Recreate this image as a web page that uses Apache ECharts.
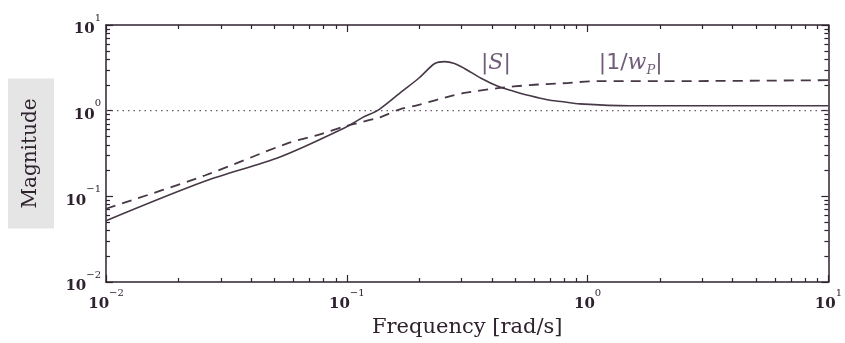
<!DOCTYPE html>
<html>
<head>
<meta charset="utf-8">
<script src="https://cdn.jsdelivr.net/npm/echarts@6/dist/echarts.min.js"></script>
<style>
  html, body { margin: 0; padding: 0; background: #ffffff; }
  #chart { width: 845px; height: 343px; }
</style>
</head>
<body>
<div id="chart"></div>
<script>
// |S| (frequency rad/s, magnitude)
const sFreq = [0.01, 0.0257, 0.0531, 0.099, 0.116, 0.136, 0.170, 0.199, 0.232, 0.255, 0.280, 0.308, 0.361, 0.424, 0.493, 0.578, 0.679, 0.790, 0.927, 1.49, 10];
const sMag  = [0.052, 0.150, 0.29, 0.64, 0.83, 1.03, 1.69, 2.39, 3.55, 3.74, 3.55, 3.11, 2.39, 1.93, 1.69, 1.49, 1.34, 1.27, 1.20, 1.14, 1.14];

// |1/wP|
const wFreq = [0.01, 0.0257, 0.056, 0.0774, 0.099, 0.136, 0.165, 0.199, 0.272, 0.308, 0.424, 0.578, 0.790, 1.09, 1.97, 10];
const wMag  = [0.0716, 0.175, 0.41, 0.53, 0.66, 0.83, 1.03, 1.17, 1.49, 1.61, 1.83, 1.99, 2.09, 2.21, 2.21, 2.27];

// dotted reference line at magnitude 1
const oneFreq = [0.01, 10];
const oneMag  = [1, 1];

const axisMin = 0.01;
const axisMax = 10;
const minorTicks = [];
[0.01, 0.1, 1].forEach(d => { for (let k = 2; k <= 9; k++) minorTicks.push(+(d * k).toPrecision(3)); });

const notes = [
  { name: '{b||}{i|S}{b||}', value: [0.416, 3.55] },
  { name: '{b||1/}{i|w}{sub|P}{b||}', value: [1.51, 3.55] }
];

const ink = '#2e222e';
const lineInk = '#463846';
const noteInk = '#4e3558';
const serif = 'DejaVu Serif';

const expLabel = v => {
  const e = Math.round(Math.log10(v));
  return '{b|10}{s|' + (e < 0 ? '\u2212' + (-e) : e) + '}';
};
const labelRich = {
  b: { fontFamily: serif, fontSize: 15, fontWeight: 'bold', color: ink, verticalAlign: 'bottom', lineHeight: 24 },
  s: { fontFamily: serif, fontSize: 10, color: ink, verticalAlign: 'top', lineHeight: 24 }
};

const pair = (xs, ys) => xs.map((x, i) => [x, ys[i]]);

// frame axes: one with the decade ticks, one carrying only the minor ticks
function frameAxis(position, minor, extra) {
  return Object.assign({
    type: 'log', logBase: 10, min: axisMin, max: axisMax, position: position,
    axisLine: { show: !minor, lineStyle: { color: ink, width: 1.5 } },
    axisTick: minor
      ? { show: true, inside: true, length: 4, customValues: minorTicks, lineStyle: { color: ink, width: 1.2 } }
      : { show: true, inside: true, length: 7, lineStyle: { color: ink, width: 1.2 } },
    axisLabel: { show: false },
    splitLine: { show: false }
  }, extra || {});
}

const chart = echarts.init(document.getElementById('chart'));

const option = {
  backgroundColor: '#ffffff',
  animation: false,
  grid: { left: 100, right: 12, top: 25, bottom: 56 },
  xAxis: [
    frameAxis('bottom', false, {
      name: 'Frequency [rad/s]', nameLocation: 'middle', nameGap: 35,
      nameTextStyle: { fontFamily: serif, fontSize: 21, color: ink },
      axisLabel: { formatter: expLabel, rich: labelRich, margin: 6 }
    }),
    frameAxis('bottom', true),
    frameAxis('top', false),
    frameAxis('top', true)
  ],
  yAxis: [
    frameAxis('left', false, {
      name: 'Magnitude', nameLocation: 'middle', nameGap: 52,
      nameTextStyle: { fontFamily: serif, fontSize: 20, color: ink,
        backgroundColor: '#e5e5e5', padding: [13, 20, 13, 20] },
      axisLabel: { formatter: expLabel, rich: labelRich, margin: 5 }
    }),
    frameAxis('left', true),
    frameAxis('right', false),
    frameAxis('right', true)
  ],
  series: [
    {
      name: 'one', type: 'line', symbol: 'none', silent: true,
      lineStyle: { color: '#6a5a6a', width: 1.2, type: [1.5, 4] },
      data: pair(oneFreq, oneMag)
    },
    {
      name: '|1/wP|', type: 'line', symbol: 'none', smooth: 0.3, silent: true,
      lineStyle: { color: lineInk, width: 1.8, type: [10, 7] },
      data: pair(wFreq, wMag)
    },
    {
      name: '|S|', type: 'line', symbol: 'none', smooth: 0.3, silent: true,
      lineStyle: { color: lineInk, width: 1.6 },
      data: pair(sFreq, sMag)
    },
    {
      type: 'scatter', symbolSize: 0, silent: true,
      label: {
        show: true, position: 'inside', formatter: p => p.name,
        rich: {
          b: { fontFamily: 'DejaVu Sans', fontSize: 22, color: noteInk, verticalAlign: 'middle', lineHeight: 28 },
          i: { fontFamily: serif, fontStyle: 'italic', fontSize: 22, color: noteInk, verticalAlign: 'middle', lineHeight: 28 },
          sub: { fontFamily: serif, fontStyle: 'italic', fontSize: 13, color: noteInk, verticalAlign: 'bottom', lineHeight: 26 }
        }
      },
      data: notes
    }
  ]
};

chart.setOption(option);
</script>
</body>
</html>
